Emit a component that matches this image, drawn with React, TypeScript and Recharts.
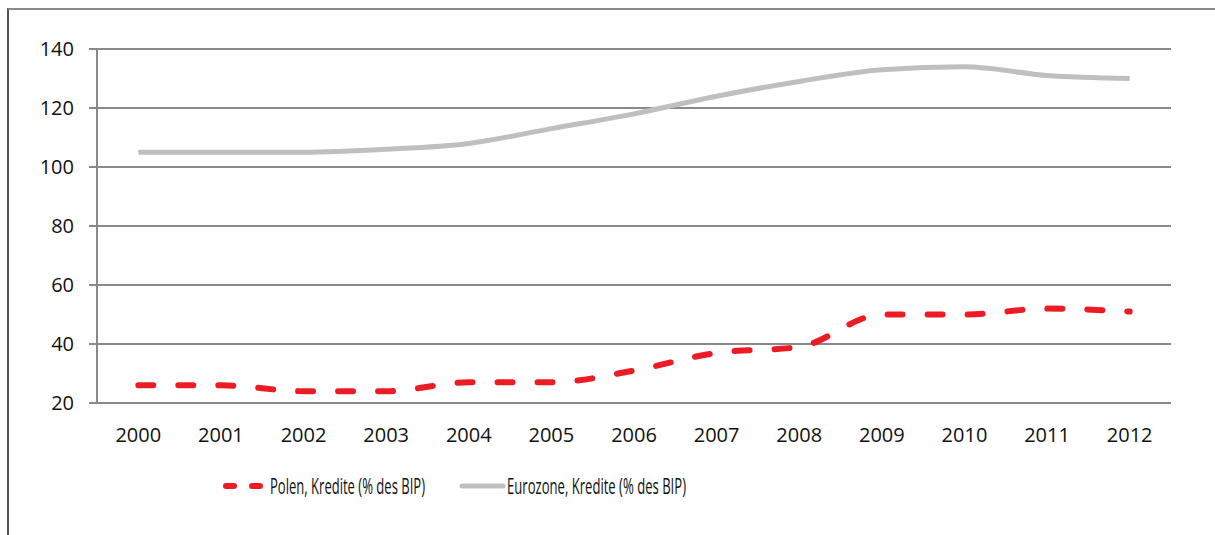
import React from "react";
import { LineChart, Line, XAxis, YAxis, CartesianGrid, Legend } from "recharts";

const years = ["2000", "2001", "2002", "2003", "2004", "2005", "2006", "2007", "2008", "2009", "2010", "2011", "2012"];
const polen = [26, 26, 24, 24, 27, 27, 31, 37, 39, 50, 50, 52, 51];
const eurozone = [105, 105, 105, 106, 108, 113, 118, 124, 129, 133, 134, 131, 130];
const yTicks = [20, 40, 60, 80, 100, 120, 140];
const seriesNames = ["Polen, Kredite (% des BIP)", "Eurozone, Kredite (% des BIP)"];
const boundaryTicks = years.map((_, i) => i).concat([years.length]);

const data = years.map((y, i) => ({ year: y, pos: i + 0.5, polen: polen[i], euro: eurozone[i] }));

const AXIS = "#898989";
const RED = "#ED1C24";
const GRAY = "#BFBFBF";
const FONT = "'Open Sans', sans-serif";

const legendWidths = [155, 179];
const legendStarts = [214, 451];

const LegendContent = (props: any) => {
  const payload = [...(props.payload || [])].sort(
    (a: any, b: any) => seriesNames.indexOf(a.value) - seriesNames.indexOf(b.value)
  );
  return (
    <svg width={1199} height={40} style={{ display: "block" }}>
      {payload.map((p: any, i: number) => {
        const x = legendStarts[i];
        const dashed = i === 0;
        return (
          <g key={i}>
            {dashed ? (
              <g stroke={p.color} strokeWidth={6} strokeLinecap="round">
                <line x1={x + 3} y1={20} x2={x + 11} y2={20} />
                <line x1={x + 29} y1={20} x2={x + 37} y2={20} />
              </g>
            ) : (
              <line x1={x + 2} y1={20} x2={x + 43} y2={20} stroke={p.color} strokeWidth={5} strokeLinecap="round" />
            )}
            <text
              x={x + 47}
              y={28}
              fontSize={22}
              fontFamily="'Liberation Sans Narrow', 'Open Sans', sans-serif"
              fill="#111"
              textLength={legendWidths[i]}
              lengthAdjust="spacingAndGlyphs"
            >
              {p.value}
            </text>
          </g>
        );
      })}
    </svg>
  );
};

export default function App() {
  return (
    <div
      style={{
        position: "absolute",
        left: 7,
        top: 8,
        width: 1208,
        height: 527,
        boxSizing: "border-box",
        borderTop: `2px solid ${AXIS}`,
        borderLeft: "2px solid #555",
        overflow: "hidden",
        background: "#fff",
      }}
    >
      <LineChart width={1199} height={517} data={data} margin={{ top: 39, right: 37, left: 0, bottom: 84 }}>
        <CartesianGrid horizontal vertical={false} stroke={AXIS} strokeWidth={2} />
        <YAxis
          domain={[20, 140]}
          ticks={yTicks}
          width={88}
          axisLine={{ stroke: AXIS, strokeWidth: 2 }}
          tickLine={{ stroke: AXIS, strokeWidth: 2 }}
          tickSize={8}
          tickMargin={15}
          tick={{ fill: "#111", fontSize: 20, fontFamily: FONT }}
          interval={0}
        />
        <XAxis
          xAxisId="num"
          type="number"
          dataKey="pos"
          domain={[0, years.length]}
          ticks={boundaryTicks}
          tick={false}
          height={0}
          axisLine={{ stroke: AXIS, strokeWidth: 2 }}
          tickLine={{ stroke: AXIS, strokeWidth: 2 }}
          tickSize={7}
          allowDataOverflow
        />
        <XAxis
          xAxisId="lab"
          type="category"
          dataKey="year"
          scale="band"
          height={40}
          axisLine={false}
          tickLine={false}
          tickSize={6}
          tickMargin={19}
          interval={0}
          tick={{ fill: "#111", fontSize: 20, fontFamily: FONT }}
        />
        <Legend
          layout="horizontal"
          verticalAlign="middle"
          align="center"
          wrapperStyle={{ top: 456, left: 0, width: 1199, height: 40 }}
          content={<LegendContent />}
        />
        <Line
          xAxisId="num"
          type="monotone"
          dataKey="polen"
          name={seriesNames[0]}
          stroke={RED}
          strokeWidth={6}
          strokeDasharray="15 25"
          strokeLinecap="round"
          dot={false}
          activeDot={false}
          isAnimationActive={false}
        />
        <Line
          xAxisId="num"
          type="monotone"
          dataKey="euro"
          name={seriesNames[1]}
          stroke={GRAY}
          strokeWidth={5}
          dot={false}
          activeDot={false}
          isAnimationActive={false}
        />
      </LineChart>
    </div>
  );
}
